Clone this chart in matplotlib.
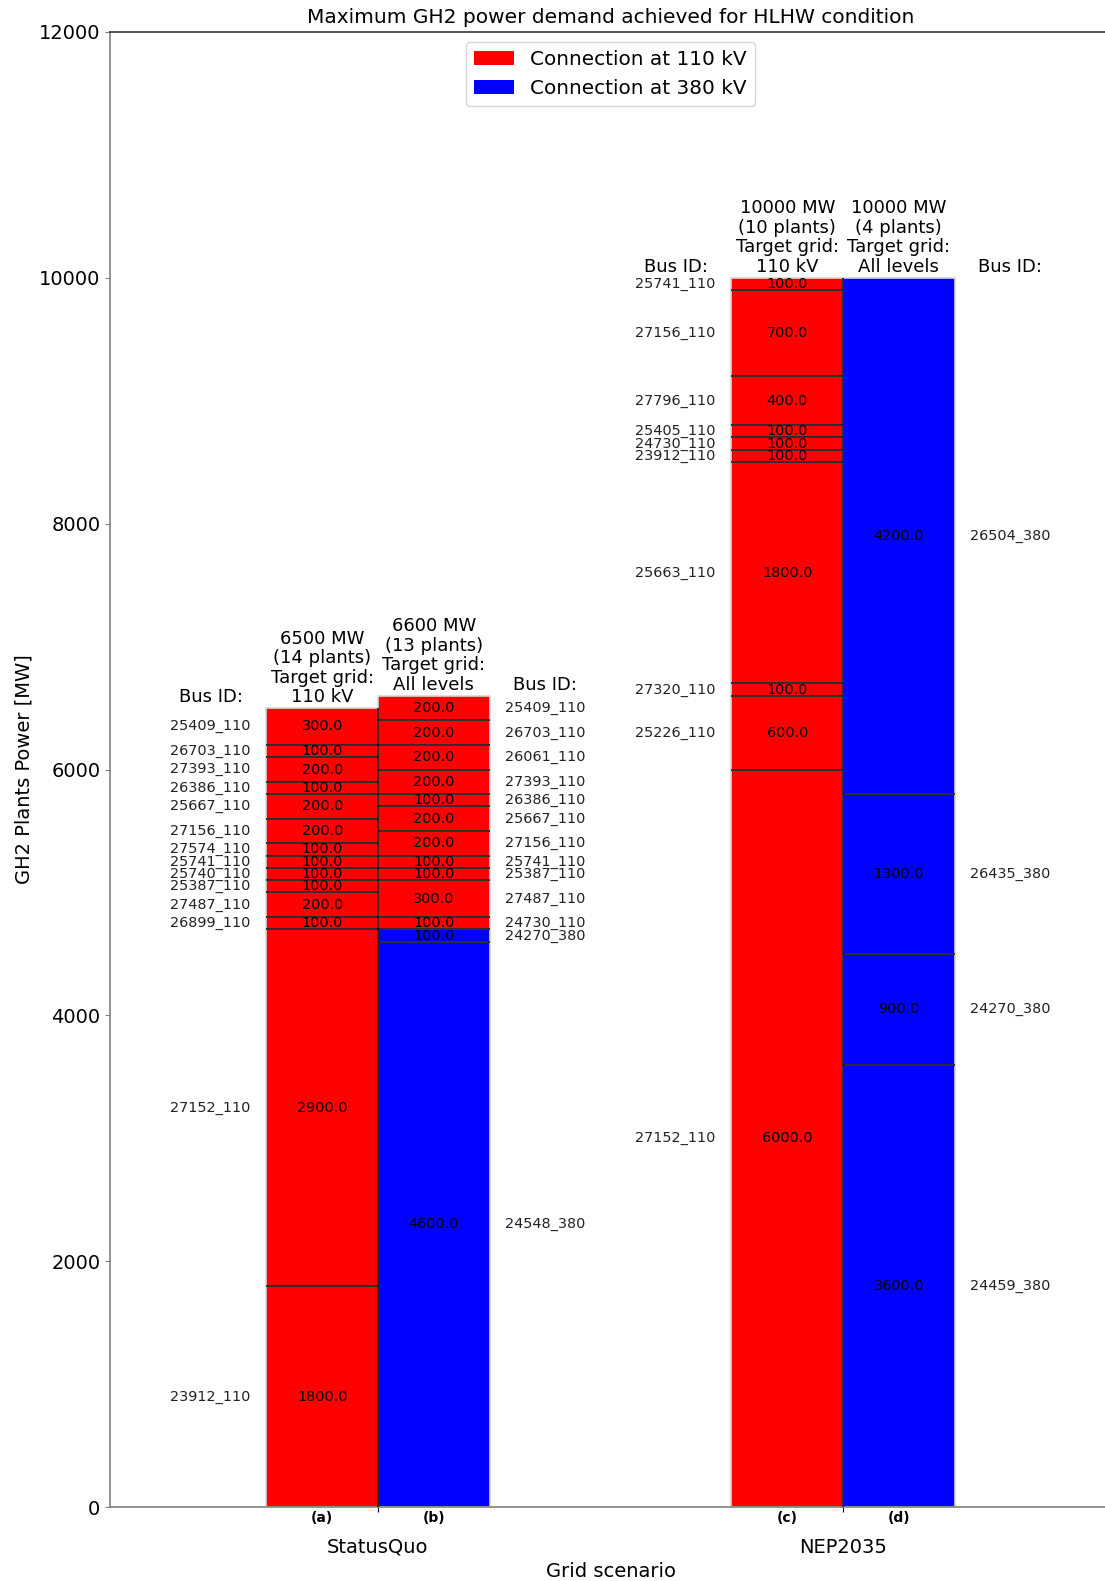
import matplotlib
matplotlib.use("Agg")
import matplotlib.pyplot as plt
from matplotlib.patches import Patch

# ---- data -------------------------------------------------------------
scenarios = ["StatusQuo", "NEP2035"]
case_tags = ["(a)", "(b)", "(c)", "(d)"]
target_grids = ["110 kV", "All levels", "110 kV", "All levels"]

# stacks listed from bottom to top
sq_110_bus = ["23912_110", "27152_110", "26899_110", "27487_110", "25387_110",
              "25740_110", "25741_110", "27574_110", "27156_110", "25667_110",
              "26386_110", "27393_110", "26703_110", "25409_110"]
sq_110_mw = [1800, 2900, 100, 200, 100, 100, 100, 100, 200, 200, 100, 200, 100, 300]

sq_all_bus = ["24548_380", "24270_380", "24730_110", "27487_110", "25387_110",
              "25741_110", "27156_110", "25667_110", "26386_110", "27393_110",
              "26061_110", "26703_110", "25409_110"]
sq_all_mw = [4600, 100, 100, 300, 100, 100, 200, 200, 100, 200, 200, 200, 200]

nep_110_bus = ["27152_110", "25226_110", "27320_110", "25663_110", "23912_110",
               "24730_110", "25405_110", "27796_110", "27156_110", "25741_110"]
nep_110_mw = [6000, 600, 100, 1800, 100, 100, 100, 400, 700, 100]

nep_all_bus = ["24459_380", "24270_380", "26435_380", "26504_380"]
nep_all_mw = [3600, 900, 1300, 4200]

y_ticks = [0, 2000, 4000, 6000, 8000, 10000, 12000]

# ---- figure -----------------------------------------------------------
W, H = 1105, 1581
fig = plt.figure(figsize=(W / 100, H / 100), dpi=100)
ax = fig.add_axes([110 / W, (H - 1507.3) / H, 1001 / W, (1507.3 - 31.7) / H])

COL_110 = "#ff0000"
COL_380 = "#0000ff"
bar_w = 0.24
label_off = 0.36

stacks = [
    (0, -1, sq_110_bus, sq_110_mw),
    (0, +1, sq_all_bus, sq_all_mw),
    (1, -1, nep_110_bus, nep_110_mw),
    (1, +1, nep_all_bus, nep_all_mw),
]

tops = {}
for k, (g, side, buses, mws) in enumerate(stacks):
    x = g + side * bar_w / 2
    bottom = 0
    for i, (bus, mw) in enumerate(zip(buses, mws)):
        col = COL_380 if bus.endswith("_380") else COL_110
        ax.bar(x, mw, width=bar_w, bottom=bottom, color=col,
               edgecolor="#d8d8d8", linewidth=1.2, zorder=2)
        if i > 0:
            ax.hlines(bottom, x - bar_w / 2, x + bar_w / 2, color="black",
                      linewidth=1.1, zorder=3)
        mid = bottom + mw / 2
        ax.text(x, mid, f"{float(mw):.1f}", ha="center", va="center",
                fontsize=10.4, color="black", zorder=4)
        ax.text(g + side * label_off, mid, bus, ha="center", va="center",
                fontsize=10.4, color="#222222")
        bottom += mw
    total = bottom
    tops.setdefault(g, []).append(total)
    ax.annotate(f"{total} MW\n({len(mws)} plants)\nTarget grid:\n{target_grids[k]}",
                xy=(x, total), xytext=(0, 1.5), textcoords="offset points",
                ha="center", va="bottom", fontsize=13, linespacing=1.1)
    ax.annotate("Bus ID:", xy=(g + side * label_off, total), xytext=(0, 1.5),
                textcoords="offset points", ha="center", va="bottom", fontsize=13)

# dividing line between the two stacks of each scenario
for g, t in tops.items():
    ax.vlines(g, 0, min(t), color="black", linewidth=1.1, zorder=3)

ax.set_xlim(-0.5763, 1.5763)
ax.set_ylim(0, 12000)
ax.set_yticks(y_ticks)
ax.tick_params(axis="y", labelsize=14, color="#808080")

ax.set_xticks([0, 1])
ax.set_xticklabels(scenarios, fontsize=14)
ax.tick_params(axis="x", which="major", pad=18.5, color="black")
ax.set_xticks([-bar_w / 2, bar_w / 2, 1 - bar_w / 2, 1 + bar_w / 2], minor=True)
ax.set_xticklabels(case_tags, minor=True, fontsize=10, fontweight="bold")
ax.tick_params(axis="x", which="minor", length=0, pad=3)

ax.set_xlabel("Grid scenario", fontsize=14)
ax.set_ylabel("GH2 Plants Power [MW]", fontsize=14)
ax.set_title("Maximum GH2 power demand achieved for HLHW condition", fontsize=14.5)

for s in ("left", "bottom"):
    ax.spines[s].set_color("#808080")
    ax.spines[s].set_linewidth(1.2)
ax.spines["top"].set_color("#333333")
ax.spines["top"].set_linewidth(1.2)

handles = [Patch(facecolor=COL_110, label="Connection at 110 kV"),
           Patch(facecolor=COL_380, label="Connection at 380 kV")]
ax.legend(handles=handles, loc="upper center", fontsize=14.4)

fig.savefig("out.png", dpi=100)
